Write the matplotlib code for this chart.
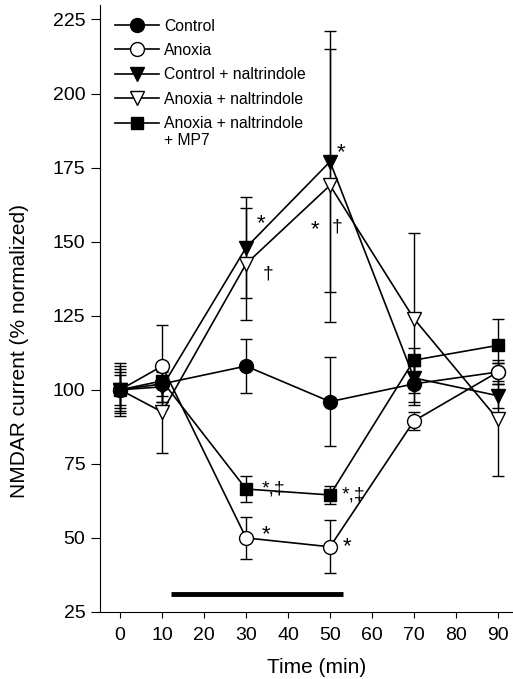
import matplotlib
matplotlib.use('Agg')
from matplotlib import pyplot as plt
from matplotlib.lines import Line2D

plt.rcParams['font.family'] = ['Liberation Sans', 'DejaVu Sans']

times = [0, 10, 30, 50, 70, 90]

control = [100, 102, 108, 96, 102, 106]
control_err = [7, 6, 9, 15, 6, 4]

anoxia = [100, 108, 50, 47, 89.5, 106]
anoxia_err = [8, 14, 7, 9, 3, 3]

control_nal = [100, 101, 148, 177, 104, 98]
control_nal_err = [6, 5, 17, 44, 5, 4]

anoxia_nal = [100, 92.5, 142.5, 169, 124, 90]
anoxia_nal_err = [9, 14, 19, 46, 29, 19]

anoxia_nal_mp7 = [100, 103, 66.5, 64.5, 110, 115]
anoxia_nal_mp7_err = [5, 5, 4.5, 3, 4, 9]

# significance marks next to points
marks = [
    (32.5, 156, '*'), (34, 139, '†'),
    (51.5, 180, '*'), (45.5, 154, '*'), (50.5, 155, '†'),
    (33.8, 66.5, '*,‡'), (52.8, 64.5, '*,‡'),
    (33.8, 51, '*'), (53, 47, '*'),
]

fig = plt.figure(figsize=(5.13, 6.79), dpi=100)
ax = fig.add_axes([0.195, 0.0987, 0.805, 0.894])

series = [
    (control, control_err, 'o', 'k', 'Control'),
    (anoxia, anoxia_err, 'o', 'w', 'Anoxia'),
    (control_nal, control_nal_err, 'v', 'k', 'Control + naltrindole'),
    (anoxia_nal, anoxia_nal_err, 'v', 'w', 'Anoxia + naltrindole'),
    (anoxia_nal_mp7, anoxia_nal_mp7_err, 's', 'k', 'Anoxia + naltrindole'),
]

handles = []
for vals, err, m, fc, lab in series:
    ms = 10 if m != 's' else 9
    ax.errorbar(times, vals, yerr=err, fmt='-', marker=m, color='k', mfc=fc,
                mec='k', ms=ms, lw=1.2, elinewidth=1.0, capsize=4,
                capthick=1.0)
    handles.append(Line2D([], [], color='k', lw=1.2, marker=m, mfc=fc,
                          mec='k', ms=ms, label=lab))

# anoxia period bar
ax.plot([12, 53], [31, 31], color='k', lw=3.5, solid_capstyle='butt')

for x, y, s in marks:
    ax.text(x, y, s, fontsize=16 if s == '*' else 14, ha='left', va='center')

ax.set_xlim(-4.8, 93.6)
ax.set_ylim(25, 229.9)
ax.set_xticks([0, 10, 20, 30, 40, 50, 60, 70, 80, 90])
ax.set_yticks([25, 50, 75, 100, 125, 150, 175, 200, 225])
ax.spines['top'].set_visible(False)
ax.spines['right'].set_visible(False)
ax.tick_params(axis='y', direction='out', length=6.5, labelsize=14, pad=4)
ax.tick_params(axis='x', direction='out', length=4.5, labelsize=14, pad=6)
ax.set_xlabel('Time (min)', fontsize=15)
ax.set_ylabel('NMDAR current (% normalized)', fontsize=15)
ax.xaxis.set_label_coords(0.525, -0.075)
ax.yaxis.set_label_coords(-0.172, 0.43)

leg = ax.legend(handles=handles, loc='upper left', bbox_to_anchor=(0.02, 0.988),
                frameon=False, fontsize=11.3, handlelength=2.8,
                labelspacing=0.6, handletextpad=0.35, borderaxespad=0.0)

fig.canvas.draw()
last = leg.get_texts()[-1].get_window_extent()
x0, y0 = fig.transFigure.inverted().transform((last.x0, last.y0))
fig.text(x0, y0 - 0.003, '+ MP7', fontsize=11.3, ha='left', va='top')

fig.savefig('out.png', dpi=100)
